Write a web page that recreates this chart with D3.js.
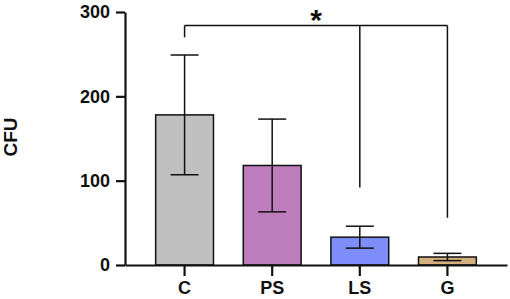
<!DOCTYPE html>
<html>
<head>
<meta charset="utf-8">
<script src="https://cdn.jsdelivr.net/npm/d3@7"></script>
<style>
  body { margin: 0; background: #fff; }
  svg { display: block; }
  text { font-family: Arial, "Liberation Sans", sans-serif; font-weight: bold; }
</style>
</head>
<body>
<div id="chart"></div>
<script>
const groups = ['C', 'PS', 'LS', 'G'];
const means = [178, 118, 33, 9.5];
const sds = [71, 55, 13, 4.3];
const barColors = ['#c0c0c0', '#be7dbc', '#7f8dfb', '#d4b07e'];
const yTicks = [0, 100, 200, 300];

// significance bracket: top level and where each leg ends
const bracketTop = 284;
const bracketLegs = [
  { group: 'C', end: 270 },
  { group: 'LS', end: 92 },
  { group: 'G', end: 56 },
];
const bracketLabel = '*';

const WIDTH = 510;
const HEIGHT = 299;
const FONT = '18px';

const svg = d3.select('#chart')
  .append('svg')
  .attr('width', WIDTH)
  .attr('height', HEIGHT);

const x = d3.scaleBand()
  .domain(groups)
  .range([125, 507])
  .paddingInner(0.34)
  .paddingOuter(0.35);

const y = d3.scaleLinear()
  .domain([0, 300])
  .range([265, 12]);

const cx = (g) => x(g) + x.bandwidth() / 2;
const capHalf = 14;

const data = groups.map((g, i) => ({
  group: g, mean: means[i], sd: sds[i], color: barColors[i],
}));

// bars
svg.append('g')
  .selectAll('rect')
  .data(data)
  .join('rect')
  .attr('x', (d) => x(d.group))
  .attr('y', (d) => y(d.mean))
  .attr('width', x.bandwidth())
  .attr('height', (d) => y(0) - y(d.mean))
  .attr('fill', (d) => d.color)
  .attr('stroke', '#111')
  .attr('stroke-width', 1.5);

// error bars
const err = svg.append('g')
  .attr('stroke', '#111')
  .attr('stroke-width', 1.5)
  .attr('fill', 'none');

err.selectAll('.stem')
  .data(data)
  .join('line')
  .attr('class', 'stem')
  .attr('x1', (d) => cx(d.group))
  .attr('x2', (d) => cx(d.group))
  .attr('y1', (d) => y(d.mean - d.sd))
  .attr('y2', (d) => y(d.mean + d.sd));

err.selectAll('.cap')
  .data(data.flatMap((d) => [d.mean - d.sd, d.mean + d.sd].map((v) => ({ group: d.group, v }))))
  .join('line')
  .attr('class', 'cap')
  .attr('x1', (d) => cx(d.group) - capHalf)
  .attr('x2', (d) => cx(d.group) + capHalf)
  .attr('y1', (d) => y(d.v))
  .attr('y2', (d) => y(d.v));

// axes
const yAxis = d3.axisLeft(y)
  .tickValues(yTicks)
  .tickSize(9)
  .tickSizeOuter(0)
  .tickPadding(6);

const xAxis = d3.axisBottom(x)
  .tickSize(11)
  .tickSizeOuter(0)
  .tickPadding(5);

const gy = svg.append('g')
  .attr('transform', 'translate(125,0)')
  .call(yAxis);

const gx = svg.append('g')
  .attr('transform', `translate(0,${y(0)})`)
  .call(xAxis);

[gx, gy].forEach((g) => {
  g.attr('font-size', null).attr('font-family', null);
  g.selectAll('path, line').attr('stroke', '#111').attr('stroke-width', 2.2);
  g.selectAll('text').attr('fill', '#111').style('font-size', FONT);
});

// y axis title
svg.append('text')
  .attr('transform', 'rotate(-90)')
  .attr('x', -137)
  .attr('y', 17)
  .attr('text-anchor', 'middle')
  .attr('fill', '#111')
  .style('font-size', '19px')
  .text('CFU');

// significance bracket
const br = svg.append('g')
  .attr('stroke', '#111')
  .attr('stroke-width', 1.5)
  .attr('fill', 'none');

const xs = bracketLegs.map((l) => cx(l.group));
br.append('line')
  .attr('x1', d3.min(xs))
  .attr('x2', d3.max(xs))
  .attr('y1', y(bracketTop))
  .attr('y2', y(bracketTop));

br.selectAll('.leg')
  .data(bracketLegs)
  .join('line')
  .attr('class', 'leg')
  .attr('x1', (d) => cx(d.group))
  .attr('x2', (d) => cx(d.group))
  .attr('y1', y(bracketTop))
  .attr('y2', (d) => y(d.end));

svg.append('text')
  .attr('x', (d3.min(xs) + d3.max(xs)) / 2)
  .attr('y', y(bracketTop) + 5)
  .attr('text-anchor', 'middle')
  .attr('fill', '#111')
  .style('font-size', '30px')
  .text(bracketLabel);
</script>
</body>
</html>
